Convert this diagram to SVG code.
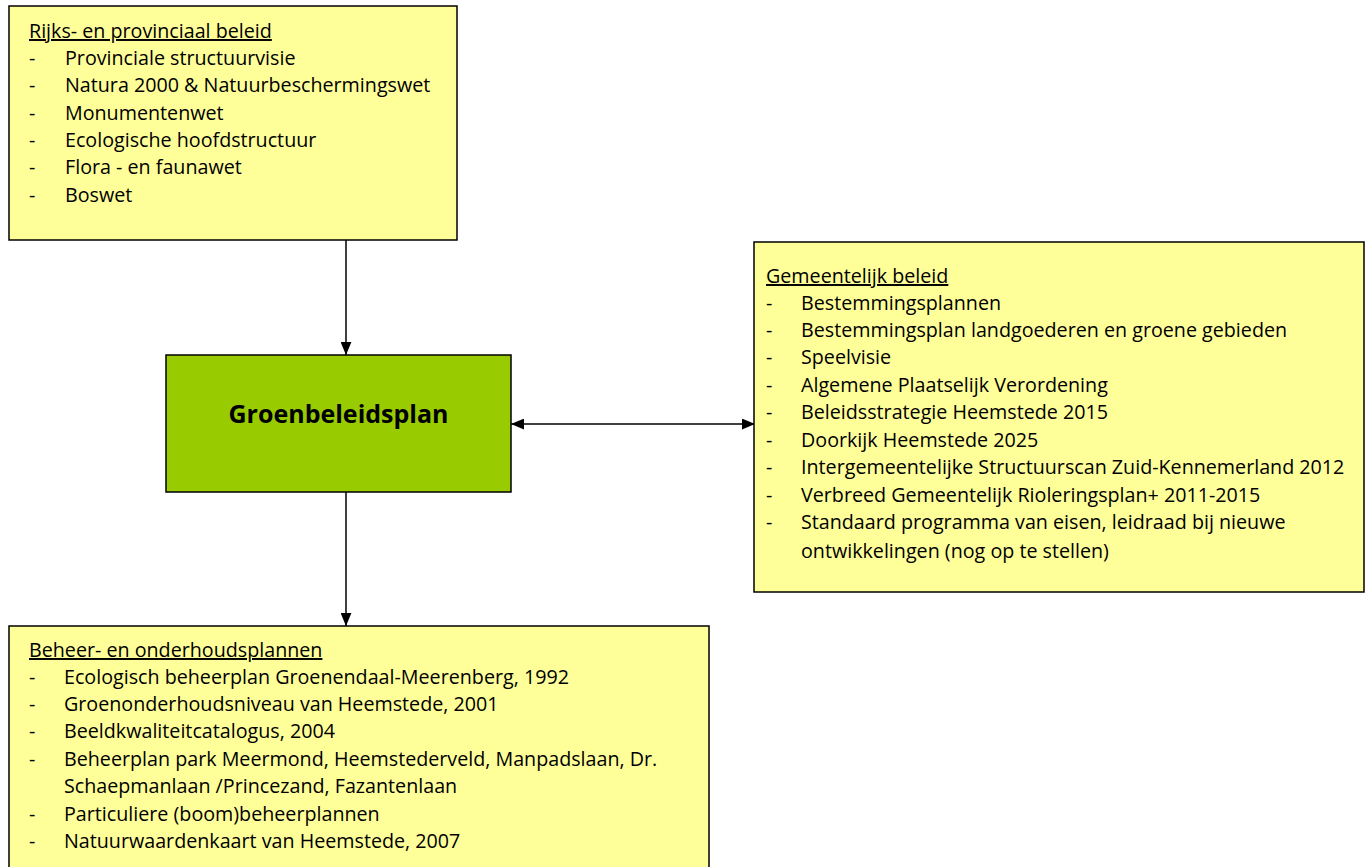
<svg xmlns="http://www.w3.org/2000/svg" width="1367" height="867" viewBox="0 0 1367 867">
<style>
.box{fill:#FFFF99;stroke:#000;stroke-width:1.5}
.green{fill:#99CC00;stroke:#000;stroke-width:1.5}
text{font-family:"Open Sans","Noto Sans",sans-serif;font-size:19.7px;fill:#000}
.hd{text-decoration:underline}
.title{font-weight:bold;font-size:25px}
.conn{stroke:#000;stroke-width:1.5;fill:none}
</style>
<defs>
<marker id="ah" viewBox="0 0 12 10" refX="12" refY="5" markerWidth="13" markerHeight="11" markerUnits="userSpaceOnUse" orient="auto-start-reverse">
<path d="M0,0 L12,5 L0,10 Z" fill="#000"/>
</marker>
</defs>
<rect width="1367" height="867" fill="#fff"/>
<g id="connectors">
<line class="conn" x1="346" y1="240" x2="346" y2="355" marker-end="url(#ah)"/>
<line class="conn" x1="511" y1="424" x2="755" y2="424" marker-start="url(#ah)" marker-end="url(#ah)"/>
<line class="conn" x1="346" y1="492" x2="346" y2="626" marker-end="url(#ah)"/>
</g>
<g id="rijks">
<rect class="box" x="9" y="6" width="448" height="234"/>
<text x="29" y="38" class="hd">Rijks- en provinciaal beleid</text>
<text x="29" y="65">-</text><text x="65" y="65">Provinciale structuurvisie</text>
<text x="29" y="92">-</text><text x="65" y="92">Natura 2000 &amp; Natuurbeschermingswet</text>
<text x="29" y="120">-</text><text x="65" y="120">Monumentenwet</text>
<text x="29" y="147">-</text><text x="65" y="147">Ecologische hoofdstructuur</text>
<text x="29" y="174">-</text><text x="65" y="174">Flora - en faunawet</text>
<text x="29" y="202">-</text><text x="65" y="202">Boswet</text>
</g>
<g id="groenbeleidsplan">
<rect class="green" x="166" y="355" width="345" height="137"/>
<text x="338.5" y="423" text-anchor="middle" class="title">Groenbeleidsplan</text>
</g>
<g id="gemeentelijk">
<rect class="box" x="754" y="242" width="610" height="350"/>
<text x="766" y="283" class="hd">Gemeentelijk beleid</text>
<text x="766" y="310">-</text><text x="801" y="310">Bestemmingsplannen</text>
<text x="766" y="337">-</text><text x="801" y="337">Bestemmingsplan landgoederen en groene gebieden</text>
<text x="766" y="364">-</text><text x="801" y="364">Speelvisie</text>
<text x="766" y="392">-</text><text x="801" y="392">Algemene Plaatselijk Verordening</text>
<text x="766" y="419">-</text><text x="801" y="419">Beleidsstrategie Heemstede 2015</text>
<text x="766" y="447">-</text><text x="801" y="447">Doorkijk Heemstede 2025</text>
<text x="766" y="474">-</text><text x="801" y="474">Intergemeentelijke Structuurscan Zuid-Kennemerland 2012</text>
<text x="766" y="502">-</text><text x="801" y="502">Verbreed Gemeentelijk Rioleringsplan+ 2011-2015</text>
<text x="766" y="529">-</text><text x="801" y="529">Standaard programma van eisen, leidraad bij nieuwe</text>
<text x="801" y="558">ontwikkelingen (nog op te stellen)</text>
</g>
<g id="beheer">
<rect class="box" x="9" y="626" width="700" height="250"/>
<text x="29" y="657" class="hd">Beheer- en onderhoudsplannen</text>
<text x="29" y="684">-</text><text x="64" y="684">Ecologisch beheerplan Groenendaal-Meerenberg, 1992</text>
<text x="29" y="711">-</text><text x="64" y="711">Groenonderhoudsniveau van Heemstede, 2001</text>
<text x="29" y="738">-</text><text x="64" y="738">Beeldkwaliteitcatalogus, 2004</text>
<text x="29" y="766">-</text><text x="64" y="766">Beheerplan park Meermond, Heemstederveld, Manpadslaan, Dr.</text>
<text x="64" y="793">Schaepmanlaan /Princezand, Fazantenlaan</text>
<text x="29" y="821">-</text><text x="64" y="821">Particuliere (boom)beheerplannen</text>
<text x="29" y="848">-</text><text x="64" y="848">Natuurwaardenkaart van Heemstede, 2007</text>
</g>
</svg>
